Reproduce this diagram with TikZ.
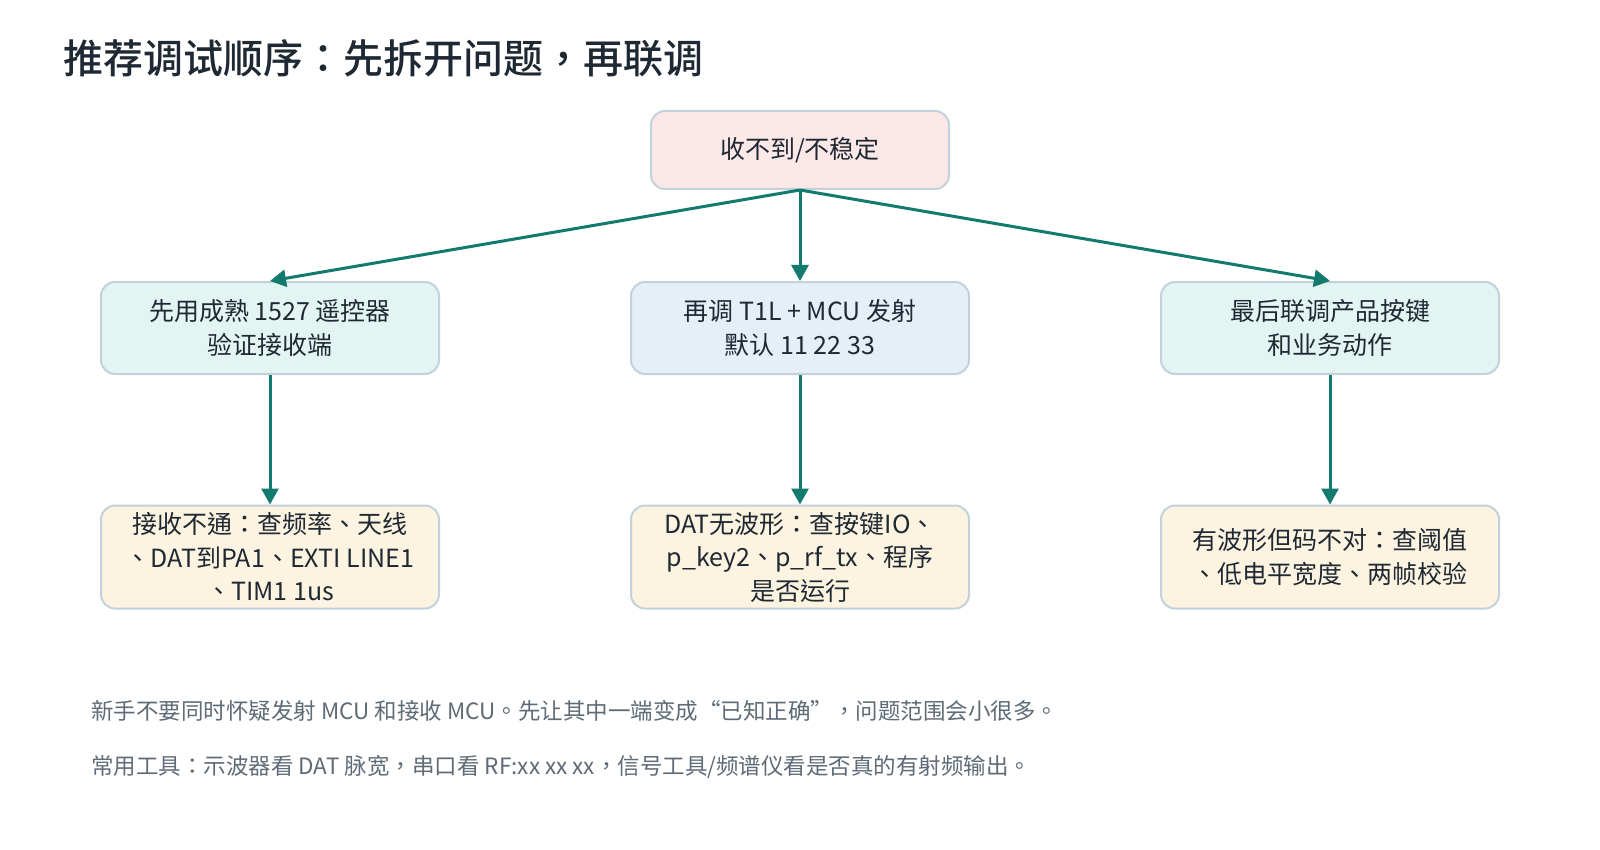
\documentclass[tikz,border=0pt]{standalone}
\usepackage{fontspec}
\setmainfont{Noto Sans CJK TC}
\newfontfamily\headfont{Noto Sans CJK TC Medium}
\usetikzlibrary{arrows.meta}

\definecolor{inkdark}{HTML}{1F2933}
\definecolor{inkgray}{HTML}{5F6B76}
\definecolor{boxline}{HTML}{C3D2DA}
\definecolor{flowgreen}{HTML}{127A6E}
\definecolor{fillpink}{HTML}{FDE8E8}
\definecolor{fillmint}{HTML}{E3F5F3}
\definecolor{fillblue}{HTML}{E6EEF8}
\definecolor{fillcream}{HTML}{FDF3E1}

\tikzset{
  box/.style={draw=boxline, line width=2pt, rounded corners=14pt, align=center,
    text=inkdark, font=\fontsize{25}{33.5}\selectfont,
    minimum width=338pt, minimum height=92pt, inner sep=0pt},
  rootbox/.style={box, fill=fillpink, minimum width=298pt, minimum height=78pt},
  stepbox/.style={box, fill=#1},
  checkbox/.style={box, fill=fillcream, minimum height=103pt},
  flow/.style={draw=flowgreen, line width=3pt, -{Triangle[length=16pt,width=17pt]}},
  note/.style={anchor=west, text=inkgray, font=\fontsize{22.5}{26}\selectfont, inner sep=0pt}
}

\begin{document}
\begin{tikzpicture}[x=1pt, y=-1pt]
  \useasboundingbox[fill=white] (0,0) rectangle (1600,850);

  \node[anchor=west, inner sep=0pt, text=inkdark, font=\fontsize{40}{48}\selectfont\headfont]
    (title) at (63,58) {推荐调试顺序：先拆开问题，再联调};

  % top problem
  \node[rootbox] (root) at (800,150) {收不到/不稳定};

  % three steps
  \node[stepbox=fillmint] (known) at (270,328) {先用成熟 1527 遥控器\\验证接收端};
  \node[stepbox=fillblue] (send)  at (800,328) {再调 T1L + MCU 发射\\默认 11 22 33};
  \node[stepbox=fillmint] (joint) at (1330,328) {最后联调产品按键\\和业务动作};

  % what to check under each step
  \node[checkbox] (rxfail) at (270,557) {接收不通：查频率、天线\\、DAT到PA1、EXTI LINE1\\、TIM1 1us};
  \node[checkbox] (nowave) at (800,557) {DAT无波形：查按键IO、\\p\_key2、p\_rf\_tx、程序\\是否运行};
  \node[checkbox] (badcode) at (1330,557) {有波形但码不对：查阈值\\、低电平宽度、两帧校验};

  \draw[flow] (root.south) -- (known.north);
  \draw[flow] (root.south) -- (send.north);
  \draw[flow] (root.south) -- (joint.north);
  \draw[flow] (known) -- (rxfail);
  \draw[flow] (send) -- (nowave);
  \draw[flow] (joint) -- (badcode);

  \node[note] (tip1) at (91,711) {新手不要同时怀疑发射 MCU 和接收 MCU。先让其中一端变成“已知正确”，问题范围会小很多。};
  \node[note] (tip2) at (91,767) {常用工具：示波器看 DAT 脉宽，串口看 RF:xx xx xx，信号工具/频谱仪看是否真的有射频输出。};
\end{tikzpicture}
\end{document}
